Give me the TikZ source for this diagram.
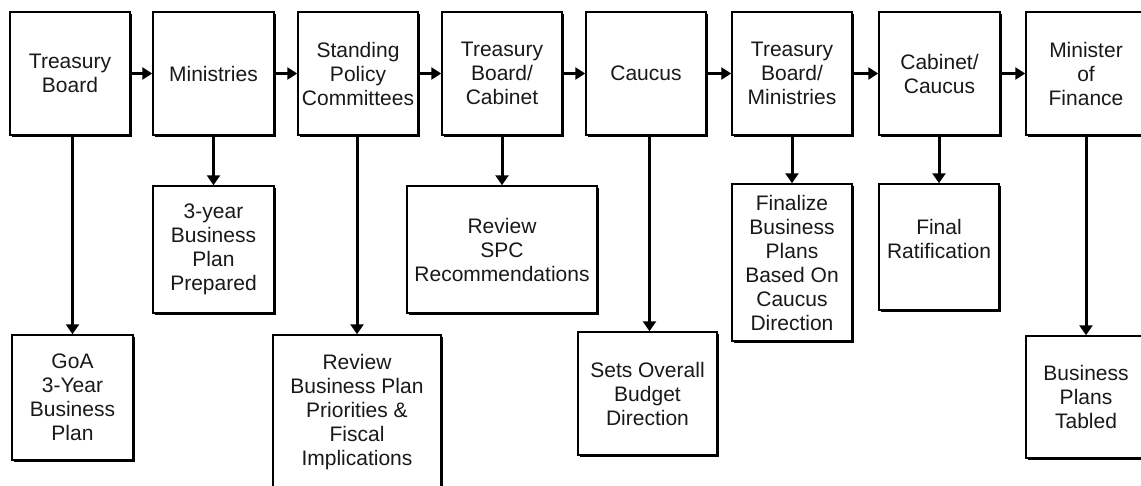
\documentclass[tikz,border=0pt]{standalone}
\usepackage{fontspec}
\setmainfont{Liberation Sans}
\usetikzlibrary{arrows.meta,shadows}
\begin{document}
\begin{tikzpicture}[x=1pt,y=-1pt,
  box/.style={draw=black, line width=1.5pt, fill=white, inner sep=0pt,
    align=center, text=black!90, font=\fontsize{21}{24}\selectfont,
    drop shadow={shadow xshift=1.6pt, shadow yshift=-1.6pt, opacity=1, fill=black}},
  plain/.style={inner sep=0pt, align=center, text=black!90, font=\fontsize{21}{24}\selectfont},
  harr/.style={line width=3pt, -{Triangle[length=10pt,width=12pt]}},
  varr/.style={line width=3pt, -{Triangle[length=10pt,width=13pt]}}]
\useasboundingbox (0,0) rectangle (1141,485);
% top row
\node[box, minimum width=120pt, minimum height=123pt] (b1) at (70,73.5) {Treasury\\Board};
\node[box, minimum width=121pt, minimum height=123pt] (b2) at (213.5,73.5) {Ministries};
\node[box, minimum width=120pt, minimum height=123pt] (b3) at (358,73.5) {Standing\\Policy\\Committees};
\node[box, minimum width=120pt, minimum height=123pt] (b4) at (502,73.5) {Treasury\\Board/\\Cabinet};
\node[box, minimum width=120pt, minimum height=123pt] (b5) at (646,73.5) {Caucus};
\node[box, minimum width=120pt, minimum height=123pt] (b6) at (792,73.5) {Treasury\\Board/\\Ministries};
\node[box, minimum width=121pt, minimum height=123pt] (b7) at (939.5,73.5) {Cabinet/\\Caucus};
\node[box, minimum width=120pt, minimum height=123pt] (b8) at (1086,73.5) {Minister\\of\\Finance};
% lower boxes
\node[box, minimum width=121pt, minimum height=125pt] (goa) at (72.5,397.5) {GoA\\3-Year\\Business\\Plan};
\node[box, minimum width=121pt, minimum height=127pt] (yr3) at (213.5,249.5) {3-year\\Business\\Plan\\Prepared};
\node[box, minimum width=168pt, minimum height=155pt] (rbp) at (357,412.5) {Review\\Business Plan\\Priorities \&\\Fiscal\\Implications};
\node[box, minimum width=190pt, minimum height=127pt] (rspc) at (502,249.5) {Review\\SPC\\Recommendations};
\node[box, minimum width=139pt, minimum height=123pt] (sets) at (647.5,393.5) {Sets Overall\\Budget\\Direction};
\node[box, minimum width=120pt, minimum height=157pt] (fin) at (792,262.5) {Finalize\\Business\\Plans\\Based On\\Caucus\\Direction};
\node[box, minimum width=120pt, minimum height=126pt] (rat) at (939,247) {};
\node[plain] (rattxt) at ([yshift=8pt]rat.center) {Final\\Ratification};
\node[box, minimum width=120pt, minimum height=122pt] (tab) at (1086,397) {Business\\Plans\\Tabled};
% horizontal arrows
\draw[harr] (b1.east) -- (b2.west);
\draw[harr] (b2.east) -- (b3.west);
\draw[harr] (b3.east) -- (b4.west);
\draw[harr] (b4.east) -- (b5.west);
\draw[harr] (b5.east) -- (b6.west);
\draw[harr] (b6.east) -- (b7.west);
\draw[harr] (b7.east) -- (b8.west);
% vertical arrows
\draw[varr] (goa.north |- b1.south) -- (goa.north);
\draw[varr] (b2.south) -- (yr3.north);
\draw[varr] (rbp.north |- b3.south) -- (rbp.north);
\draw[varr] (b4.south) -- (rspc.north);
\draw[varr] ([xshift=2pt]sets.north |- b5.south) -- ([xshift=2pt]sets.north);
\draw[varr] (b6.south) -- (fin.north);
\draw[varr] (rat.north |- b7.south) -- (rat.north);
\draw[varr] (b8.south) -- (tab.north);
\end{tikzpicture}
\end{document}
